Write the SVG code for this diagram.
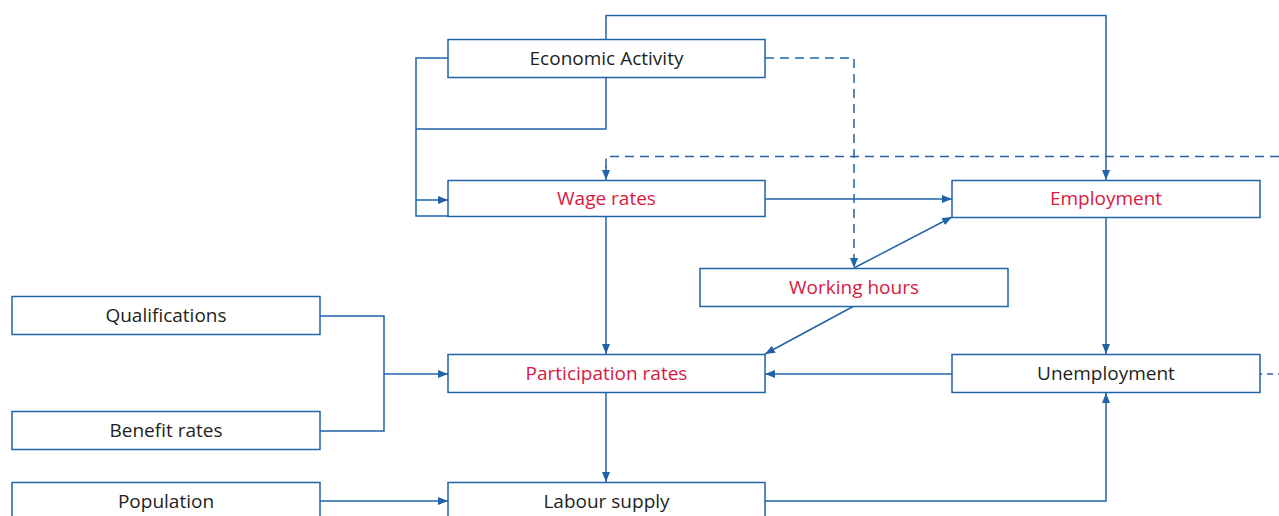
<svg xmlns="http://www.w3.org/2000/svg" width="1279" height="516" viewBox="0 0 1279 516">
<style>
.box{fill:#fff;stroke:#2263a8;stroke-width:1.5}
.ln{fill:none;stroke:#2263a8;stroke-width:1.5}
.dash{stroke-dasharray:9 6}
.t{font-family:"Open Sans","Liberation Sans",sans-serif;font-size:19px;text-anchor:middle;fill:#231f20}
.r{fill:#d8193f}
</style>
<defs>
<marker id="a" viewBox="0 0 10 8" refX="10" refY="4" markerWidth="10" markerHeight="8" markerUnits="userSpaceOnUse" orient="auto">
<path d="M0,0L10,4L0,8z" fill="#2263a8"/>
</marker>
</defs>
<g id="connectors">
<path class="ln" marker-end="url(#a)" d="M606,39V15.5H1106V180"/>
<path class="ln" d="M448,58H416V216H448"/>
<path class="ln" d="M606,77V129H416"/>
<path class="ln" marker-end="url(#a)" d="M416,200H448"/>
<path class="ln dash" marker-end="url(#a)" d="M765,58H854V268"/>
<path class="ln dash" d="M1279,156.5H606V170"/>
<path class="ln" marker-end="url(#a)" d="M606,166V180"/>
<path class="ln" marker-end="url(#a)" d="M765,199H952"/>
<path class="ln" marker-end="url(#a)" d="M854,268L952,217"/>
<path class="ln" marker-end="url(#a)" d="M854,306L765,354"/>
<path class="ln" marker-end="url(#a)" d="M606,216V354"/>
<path class="ln" d="M320,316H384V431H320"/>
<path class="ln" marker-end="url(#a)" d="M384,374H448"/>
<path class="ln" marker-end="url(#a)" d="M606,393V482"/>
<path class="ln" marker-end="url(#a)" d="M1106,218V354"/>
<path class="ln" marker-end="url(#a)" d="M952,374H765"/>
<path class="ln" marker-end="url(#a)" d="M765,501H1106V393"/>
<path class="ln" marker-end="url(#a)" d="M320,501H448"/>
<path class="ln dash" d="M1256,374H1279" style="stroke-dasharray:6 5"/>
</g>
<g id="economic-activity"><rect class="box" x="448" y="39.5" width="317" height="38"/><text class="t" x="606.5" y="64.5">Economic Activity</text></g>
<g id="wage-rates"><rect class="box" x="448" y="180.5" width="317" height="36"/><text class="t r" x="606.5" y="205">Wage rates</text></g>
<g id="employment"><rect class="box" x="952" y="180.5" width="308" height="37"/><text class="t r" x="1106" y="205">Employment</text></g>
<g id="working-hours"><rect class="box" x="700" y="268.5" width="308" height="38"/><text class="t r" x="854" y="294">Working hours</text></g>
<g id="qualifications"><rect class="box" x="12" y="296.5" width="308" height="38"/><text class="t" x="166" y="322">Qualifications</text></g>
<g id="participation-rates"><rect class="box" x="448" y="354.5" width="317" height="38"/><text class="t r" x="606.5" y="380">Participation rates</text></g>
<g id="unemployment"><rect class="box" x="952" y="354.5" width="308" height="38"/><text class="t" x="1106" y="380">Unemployment</text></g>
<g id="benefit-rates"><rect class="box" x="12" y="411.5" width="308" height="38"/><text class="t" x="166" y="437">Benefit rates</text></g>
<g id="population"><rect class="box" x="12" y="482.5" width="308" height="40"/><text class="t" x="166" y="508">Population</text></g>
<g id="labour-supply"><rect class="box" x="448" y="482.5" width="317" height="40"/><text class="t" x="606.5" y="508">Labour supply</text></g>
</svg>
